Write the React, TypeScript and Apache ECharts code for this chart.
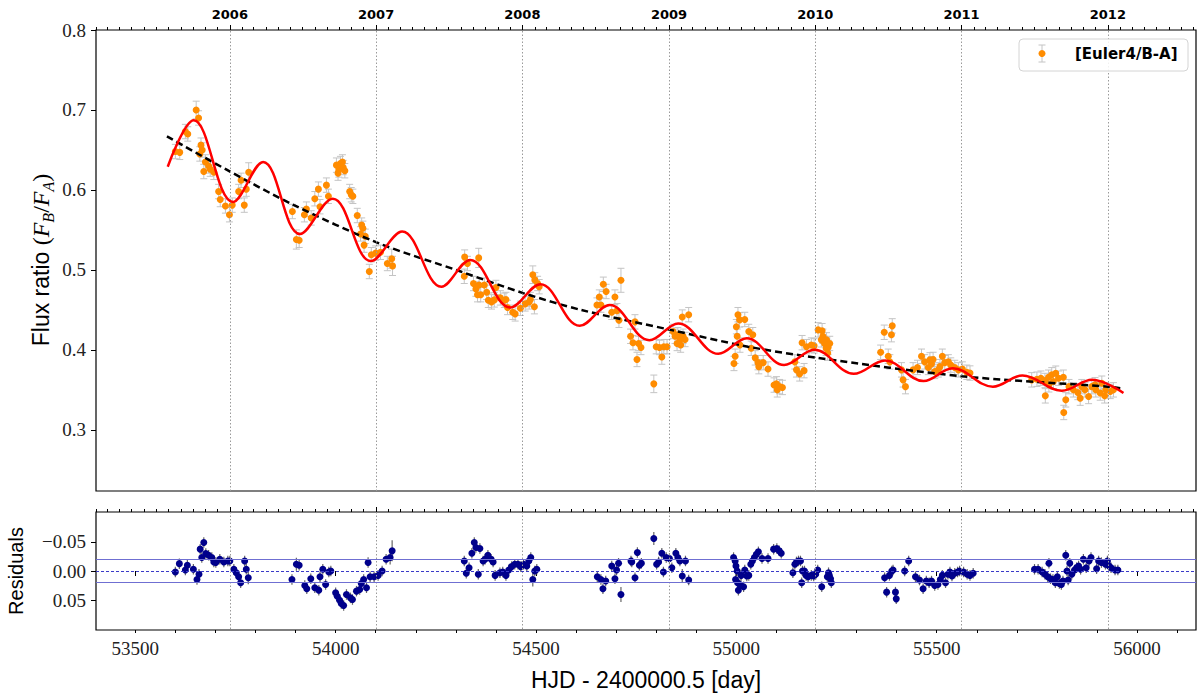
import { useEffect, useRef } from 'react';
import * as echarts from 'echarts';

// axis ranges (MJD on x)
const X_MIN = 53402;
const X_MAX = 56147;
const FLUX_MIN = 0.2235;
const FLUX_MAX = 0.8;
const RES_LIM = 0.101;

const YEAR_LABELS = ['2006', '2007', '2008', '2009', '2010', '2011', '2012'];
const YEAR_MJD = [53736, 54101, 54466, 54832, 55197, 55562, 55927];
const X_TICKS = [53500, 54000, 54500, 55000, 55500, 56000];
const FLUX_TICKS = [0.3, 0.4, 0.5, 0.6, 0.7, 0.8];
const RES_TICKS = [-0.05, 0, 0.05];
const RES_BAND = 0.02;

const FLUX_ERR = 0.009;
const RES_ERR = 0.009;

// [mjd, flux ratio, (error)]
const FLUX_OBS: number[][] = [
    [53600, 0.648], [53611, 0.647], [53625, 0.673], [53631, 0.670], [53652, 0.700, 0.011], [53658, 0.690],
    [53661, 0.645], [53664, 0.656], [53667, 0.650], [53671, 0.623], [53675, 0.635], [53683, 0.630],
    [53687, 0.626], [53696, 0.622], [53708, 0.598], [53712, 0.588], [53725, 0.580], [53735, 0.569],
    [53742, 0.581], [53758, 0.598], [53764, 0.612], [53772, 0.581], [53777, 0.601], [53783, 0.622, 0.012],
    [53892, 0.573], [53902, 0.538, 0.012], [53909, 0.537], [53922, 0.569], [53927, 0.576], [53939, 0.565],
    [53948, 0.589], [53957, 0.601], [53961, 0.579], [53977, 0.606], [53982, 0.592],
    [54002, 0.631], [54006, 0.621], [54008, 0.625], [54012, 0.633], [54017, 0.635], [54019, 0.628],
    [54023, 0.624], [54035, 0.598], [54039, 0.594], [54043, 0.592], [54054, 0.568], [54062, 0.545],
    [54065, 0.556], [54068, 0.552], [54071, 0.531], [54074, 0.542], [54084, 0.498], [54089, 0.519],
    [54100, 0.521], [54112, 0.522], [54129, 0.508], [54140, 0.514, 0.012], [54142, 0.505, 0.012],
    [54321, 0.492], [54322, 0.516], [54329, 0.508], [54344, 0.483], [54350, 0.476], [54354, 0.469],
    [54357, 0.515, 0.012], [54358, 0.481], [54362, 0.469], [54371, 0.481], [54377, 0.472], [54381, 0.462],
    [54389, 0.460], [54396, 0.4625], [54400, 0.478], [54411, 0.465], [54421, 0.462], [54425, 0.463],
    [54429, 0.453], [54442, 0.447], [54448, 0.445], [54461, 0.452], [54473, 0.4575], [54483, 0.460],
    [54486, 0.463], [54492, 0.494, 0.011], [54496, 0.454], [54497, 0.4875], [54504, 0.483], [54508, 0.479],
    [54652, 0.456], [54658, 0.466], [54662, 0.456], [54668, 0.482], [54675, 0.473], [54689, 0.447],
    [54697, 0.466], [54702, 0.449], [54707, 0.437], [54712, 0.487, 0.015], [54736, 0.417], [54742, 0.409],
    [54747, 0.435], [54752, 0.388], [54756, 0.408], [54762, 0.403], [54794, 0.3575, 0.011], [54800, 0.404],
    [54808, 0.403], [54814, 0.391], [54819, 0.404], [54827, 0.404], [54842, 0.423], [54847, 0.417],
    [54852, 0.408], [54854, 0.419], [54859, 0.4125], [54861, 0.406], [54865, 0.441], [54867, 0.417],
    [54872, 0.413], [54881, 0.444],
    [54994, 0.383], [54997, 0.392], [55000, 0.429], [55002, 0.417], [55004, 0.444], [55008, 0.4375],
    [55009, 0.406], [55021, 0.438], [55031, 0.423], [55037, 0.402], [55041, 0.419], [55047, 0.390],
    [55054, 0.384], [55056, 0.379], [55067, 0.384], [55079, 0.376], [55094, 0.356], [55100, 0.3575],
    [55102, 0.350], [55108, 0.354], [55115, 0.353],
    [55146, 0.385], [55150, 0.375], [55158, 0.370], [55164, 0.409], [55169, 0.374], [55175, 0.404],
    [55187, 0.406], [55194, 0.405], [55204, 0.425], [55212, 0.4125], [55214, 0.424], [55216, 0.417],
    [55220, 0.408], [55224, 0.402], [55225, 0.4125], [55228, 0.396], [55229, 0.403], [55233, 0.408],
    [55360, 0.397], [55369, 0.422], [55379, 0.392], [55383, 0.385], [55387, 0.419], [55389, 0.430],
    [55412, 0.375], [55416, 0.3625], [55422, 0.354],
    [55441, 0.375], [55452, 0.378], [55462, 0.392], [55470, 0.385], [55479, 0.378], [55483, 0.3875],
    [55487, 0.3825], [55491, 0.388], [55495, 0.373], [55504, 0.375], [55508, 0.379], [55514, 0.392],
    [55520, 0.384], [55529, 0.385], [55535, 0.381], [55545, 0.378], [55554, 0.375], [55564, 0.376],
    [55575, 0.372], [55583, 0.371],
    [55737, 0.3625], [55750, 0.3633], [55760, 0.3646], [55770, 0.3617], [55771, 0.3425], [55779, 0.3658],
    [55780, 0.3563], [55787, 0.3688], [55791, 0.3604], [55797, 0.3708], [55804, 0.3646], [55816, 0.3658],
    [55817, 0.3217], [55822, 0.3375], [55830, 0.354], [55841, 0.350], [55852, 0.3467], [55858, 0.3396],
    [55862, 0.354], [55870, 0.350], [55879, 0.3417], [55887, 0.354], [55895, 0.3563], [55897, 0.350],
    [55908, 0.346], [55912, 0.3583], [55919, 0.3425], [55922, 0.350], [55933, 0.348], [55941, 0.350],
];

// red model: extrema
const MODEL_CURVE: number[][] = [
    [53581, 0.629], [53646, 0.687], [53744, 0.585], [53819, 0.635], [53911, 0.545], [53993, 0.589],
    [54088, 0.511], [54166, 0.548], [54264, 0.479], [54336, 0.5125], [54436, 0.453], [54511, 0.482],
    [54609, 0.430], [54684, 0.456], [54783, 0.412], [54855, 0.433], [54955, 0.395], [55026, 0.4146],
    [55119, 0.381], [55195, 0.400], [55293, 0.370], [55371, 0.3867], [55467, 0.361], [55540, 0.377],
    [55640, 0.354], [55714, 0.368], [55812, 0.349], [55888, 0.3625], [55966, 0.346],
];

// black dashed trend
const TREND_CURVE: number[][] = [
    [53579, 0.667], [53729, 0.625], [53896, 0.581], [54104, 0.534], [54312, 0.498], [54468, 0.471],
    [54612, 0.450], [54836, 0.425], [55029, 0.404], [55203, 0.390], [55562, 0.367], [55927, 0.354],
    [55958, 0.352],
];

// [mjd, residual, (error)]
const RESIDUALS: number[][] = [
    [53600, 0.0017], [53610, -0.0126], [53625, -0.0017], [53630, -0.0098], [53645, -0.0029], [53654, 0.0144],
    [53659, 0.0057], [53662, -0.0374], [53666, -0.023], [53671, -0.0489], [53676, -0.030], [53683, -0.027],
    [53691, -0.023], [53696, -0.0155], [53701, -0.0144], [53711, -0.0201], [53721, -0.0155], [53731, -0.0172],
    [53736, -0.0172], [53746, -0.0029], [53752, 0.0029], [53758, 0.0098], [53763, 0.0201], [53773, -0.0172],
    [53777, -0.0029], [53782, 0.0115, 0.011],
    [53891, 0.0144], [53902, -0.0115, 0.011], [53909, -0.0098], [53923, 0.0247], [53928, 0.0305], [53938, 0.0132],
    [53948, 0.0287], [53958, 0.0328], [53961, 0.0098], [53968, -0.0029], [53975, 0.023], [53983, 0.0017],
    [53988, 0], [54000, 0.0374], [54004, 0.0431], [54010, 0.05], [54014, 0.0557], [54020, 0.0592],
    [54027, 0.0402], [54037, 0.046], [54042, 0.0489], [54052, 0.0345], [54060, 0.0316], [54064, 0.0213],
    [54070, 0.0144], [54077, 0.0287], [54081, -0.0144], [54086, 0.0098], [54096, 0.0098], [54106, 0.0075],
    [54116, 0], [54126, -0.0201], [54136, -0.023, 0.012], [54141, -0.0345, 0.018],
    [54321, -0.0172], [54326, 0.004], [54333, -0.0057], [54340, -0.0305], [54346, -0.0489], [54350, -0.0402],
    [54356, 0.0057], [54360, -0.0385], [54368, -0.0172], [54373, -0.0201], [54380, -0.027], [54388, -0.0201],
    [54393, -0.0155], [54398, 0.0075], [54410, 0.0029], [54417, 0.0017], [54425, 0.0075], [54432, -0.0017],
    [54439, -0.0075], [54447, -0.0115], [54455, -0.0115], [54462, -0.0075], [54469, -0.0115], [54477, -0.0086],
    [54482, -0.0172], [54487, -0.023], [54492, 0.0144, 0.012], [54497, 0], [54502, -0.0029],
    [54653, 0.0098], [54662, 0.0144], [54667, 0.0305], [54674, 0.0172], [54689, -0.0086], [54697, 0.0132],
    [54701, -0.0017], [54706, -0.0132], [54712, 0.0402, 0.013], [54737, -0.0172], [54739, -0.0155], [54747, 0.0115],
    [54753, -0.0316], [54758, -0.0098], [54763, -0.0132], [54794, -0.0557, 0.011], [54801, -0.0115], [54806, -0.0155],
    [54814, -0.0305], [54818, 0.0017], [54825, -0.023], [54833, -0.0213], [54839, -0.0057], [54849, -0.0305],
    [54854, -0.023], [54859, -0.0172], [54865, 0.0086, 0.012], [54873, -0.0172], [54881, 0.0155],
    [54993, -0.023], [54997, -0.0172], [54999, -0.0086], [55002, 0], [54998, 0.0144], [55003, 0.0201],
    [55005, 0.0328], [55009, 0.023], [55012, 0.0075], [55018, 0.027], [55021, -0.0017], [55026, 0.0086],
    [55031, 0.0075], [55036, -0.0115], [55040, -0.0172], [55045, -0.023], [55050, -0.0287], [55055, -0.0328],
    [55064, -0.0213], [55079, -0.0213], [55093, -0.0374], [55101, -0.0385], [55107, -0.0345], [55112, -0.0305],
    [55141, 0.0029], [55146, -0.0115], [55150, -0.0155], [55155, -0.0172], [55160, -0.0172], [55163, 0.0201],
    [55165, 0], [55170, 0], [55174, 0.0075], [55179, 0.0098], [55187, 0.0075], [55193, 0.0086],
    [55198, 0.0057], [55203, -0.0017], [55213, 0.027], [55227, 0.0098], [55230, 0.0029], [55232, 0.0075],
    [55235, 0.0132], [55237, 0.0201],
    [55370, 0.0115], [55375, 0.0362], [55382, 0.0075], [55388, 0], [55391, -0.0017], [55397, 0.0362],
    [55399, 0.0477], [55420, 0], [55430, -0.0172], [55447, 0.0098], [55457, 0.0155], [55466, 0.0305],
    [55474, 0.0172], [55481, 0.0201], [55487, 0.0172], [55495, 0.0247], [55503, 0.023], [55509, 0.0144],
    [55514, 0.0075], [55522, 0.0201], [55528, 0.0057], [55533, 0.0017], [55538, 0.0086], [55545, 0.004],
    [55552, 0.0017], [55557, 0], [55567, 0.0017], [55576, 0.0057], [55583, 0.0075], [55591, 0.004],
    [55744, -0.0029], [55753, -0.0029], [55763, 0.0017], [55770, 0.0057], [55777, 0.0098], [55780, -0.0132],
    [55784, 0.0132], [55790, 0.0144], [55796, 0.0201], [55801, 0.0098], [55806, 0.0213], [55811, 0.023],
    [55815, 0.0172], [55822, -0.027], [55825, 0], [55828, 0.0155], [55832, -0.0132], [55837, 0.0057],
    [55844, -0.0017], [55849, -0.0057], [55854, -0.0086], [55859, -0.0029], [55866, -0.0201], [55873, -0.0057],
    [55880, -0.0172], [55885, -0.023], [55899, -0.004], [55904, -0.0172], [55911, -0.0144], [55921, -0.0115],
    [55926, -0.0172], [55930, -0.0086], [55935, -0.0057], [55945, -0.0017], [55952, -0.0017],
];

// first-of-month tick positions for the calendar axes
const monthTicks: number[] = [];
for (let y = 2005; y <= 2012; y++) {
    for (let m = 0; m < 12; m++) {
        const mjd = Date.UTC(y, m, 1) / 86400000 + 40587;
        if (mjd >= X_MIN && mjd <= X_MAX) monthTicks.push(mjd);
    }
}
const minorTicks: number[] = [];
for (let v = 53500; v <= X_MAX; v += 100) minorTicks.push(v);

const SERIF = 'Liberation Serif';
const SANS = 'Liberation Sans';

const errorBars = (color: string, cap: number, width: number) => (_params: any, api: any) => {
    const x = api.value(0);
    const y = api.value(1);
    const e = api.value(2);
    const hi = api.coord([x, y + e]);
    const lo = api.coord([x, y - e]);
    const style = { stroke: color, lineWidth: width };
    const children: any[] = [
        { type: 'line', shape: { x1: hi[0], y1: hi[1], x2: lo[0], y2: lo[1] }, style },
    ];
    if (cap > 0) {
        children.push(
            { type: 'line', shape: { x1: hi[0] - cap, y1: hi[1], x2: hi[0] + cap, y2: hi[1] }, style },
            { type: 'line', shape: { x1: lo[0] - cap, y1: lo[1], x2: lo[0] + cap, y2: lo[1] }, style },
        );
    }
    return { type: 'group', children };
};

const calendarAxis = (gridIndex: number, ticks: number[], len: number, labels: boolean) => ({
    type: 'value',
    gridIndex,
    position: 'top',
    min: X_MIN,
    max: X_MAX,
    axisLine: { show: false },
    splitLine: { show: false },
    axisTick: { show: true, customValues: ticks, length: len, lineStyle: { color: '#000', width: 1 } },
    axisLabel: labels
        ? {
              show: true,
              customValues: YEAR_MJD,
              formatter: (v: number) => YEAR_LABELS[YEAR_MJD.indexOf(v)] ?? '',
              fontFamily: 'DejaVu Sans',
              fontWeight: 'bold',
              fontSize: 13,
              color: '#000',
              margin: 9,
          }
        : { show: false },
});

const yearLines = {
    symbol: ['none', 'none'],
    silent: true,
    label: { show: false },
    lineStyle: { type: [1.5, 2], color: '#9a9a9a', width: 1 },
    data: YEAR_MJD.map((v) => ({ xAxis: v })),
};

export default function App() {
    const chartRef = useRef<HTMLDivElement>(null);

    useEffect(() => {
        if (!chartRef.current) return;
        const chart = echarts.init(chartRef.current, undefined, { renderer: 'svg' });

        const option = {
            animation: false,
            backgroundColor: '#fff',
            textStyle: { fontFamily: SANS },
            grid: [
                { left: 96, top: 30, width: 1100, height: 461, show: true, borderColor: '#000', borderWidth: 1.2 },
                { left: 96, top: 512, width: 1100, height: 118, show: true, borderColor: '#000', borderWidth: 1.2 },
            ],
            xAxis: [
                {
                    type: 'value', gridIndex: 0, position: 'bottom', min: X_MIN, max: X_MAX,
                    axisLine: { show: false }, axisTick: { show: false }, axisLabel: { show: false },
                    splitLine: { show: false },
                },
                calendarAxis(0, monthTicks, 3, false),
                calendarAxis(0, YEAR_MJD, 5, true),
                {
                    type: 'value', gridIndex: 1, position: 'bottom', min: X_MIN, max: X_MAX,
                    axisLine: { show: false }, splitLine: { show: false },
                    axisTick: { show: true, customValues: X_TICKS, length: 5, lineStyle: { color: '#000' } },
                    axisLabel: {
                        show: true, customValues: X_TICKS, formatter: (v: number) => String(v),
                        fontFamily: SERIF, fontSize: 19, color: '#222', margin: 9,
                    },
                },
                {
                    type: 'value', gridIndex: 1, position: 'bottom', min: X_MIN, max: X_MAX,
                    axisLine: { show: false }, splitLine: { show: false }, axisLabel: { show: false },
                    axisTick: { show: true, customValues: minorTicks, length: 3, lineStyle: { color: '#000' } },
                },
                calendarAxis(1, monthTicks, 3, false),
                calendarAxis(1, YEAR_MJD, 5, false),
            ],
            yAxis: [
                {
                    type: 'value', gridIndex: 0, min: FLUX_MIN, max: FLUX_MAX,
                    axisLine: { show: false }, splitLine: { show: false },
                    axisTick: { show: true, customValues: FLUX_TICKS, length: 5, lineStyle: { color: '#000' } },
                    axisLabel: {
                        show: true, customValues: FLUX_TICKS, formatter: (v: number) => v.toFixed(1),
                        fontFamily: SERIF, fontSize: 19, color: '#222', margin: 10,
                    },
                },
                {
                    type: 'value', gridIndex: 1, inverse: true, min: -RES_LIM, max: RES_LIM,
                    axisLine: { show: false }, splitLine: { show: false },
                    axisTick: { show: true, customValues: RES_TICKS, length: 5, lineStyle: { color: '#000' } },
                    axisLabel: {
                        show: true, customValues: RES_TICKS,
                        formatter: (v: number) => (v < -1e-9 ? '\u2212' : '') + Math.abs(v).toFixed(2),
                        fontFamily: SERIF, fontSize: 19, color: '#222', margin: 10,
                    },
                },
            ],
            series: [
                // top panel
                { type: 'scatter', xAxisIndex: 0, yAxisIndex: 0, data: [], z: 1, markLine: yearLines },
                {
                    type: 'custom', xAxisIndex: 0, yAxisIndex: 0, z: 2, clip: true,
                    renderItem: errorBars('#c4c4c4', 3.5, 1),
                    encode: { x: 0, y: 1 },
                    data: FLUX_OBS.map(([t, f, e]) => [t, f, e ?? FLUX_ERR]),
                },
                {
                    name: '[Euler4/B-A]', type: 'scatter', xAxisIndex: 0, yAxisIndex: 0, z: 3,
                    symbolSize: 7, itemStyle: { color: '#ff8c00', opacity: 1 },
                    data: FLUX_OBS.map(([t, f]) => [t, f]),
                },
                {
                    type: 'line', xAxisIndex: 0, yAxisIndex: 0, z: 4, smooth: 0.3, showSymbol: false,
                    lineStyle: { color: '#000', width: 2.5, type: [7, 4] },
                    data: TREND_CURVE,
                },
                {
                    type: 'line', xAxisIndex: 0, yAxisIndex: 0, z: 5, smooth: 0.38, showSymbol: false,
                    lineStyle: { color: '#ff0000', width: 2.5 },
                    data: MODEL_CURVE,
                },
                // residual panel
                {
                    type: 'scatter', xAxisIndex: 3, yAxisIndex: 1, data: [], z: 1,
                    markLine: {
                        ...yearLines,
                        data: [
                            ...yearLines.data,
                            { yAxis: RES_BAND, lineStyle: { type: 'solid', color: '#6f6fd2', width: 1.2 } },
                            { yAxis: -RES_BAND, lineStyle: { type: 'solid', color: '#6f6fd2', width: 1.2 } },
                            { yAxis: 0, lineStyle: { type: [3, 2], color: '#3a3ac8', width: 1 } },
                        ],
                    },
                },
                {
                    type: 'custom', xAxisIndex: 3, yAxisIndex: 1, z: 2, clip: true,
                    renderItem: errorBars('#666666', 0, 1.2),
                    encode: { x: 0, y: 1 },
                    data: RESIDUALS.map(([t, r, e]) => [t, r, e ?? RES_ERR]),
                },
                {
                    type: 'scatter', xAxisIndex: 3, yAxisIndex: 1, z: 3,
                    symbolSize: 7, itemStyle: { color: '#00008b', opacity: 1 },
                    data: RESIDUALS.map(([t, r]) => [t, r]),
                },
            ],
            graphic: [
                {
                    type: 'text', x: 41, y: 260, rotation: Math.PI / 2,
                    style: {
                        text: '{t|Flux ratio }{m|(}{i|F}{s|B}{m|/}{i|F}{s|A}{m|)}',
                        align: 'center', verticalAlign: 'middle',
                        rich: {
                            t: { fontFamily: SANS, fontSize: 23, lineHeight: 30, fill: '#000' },
                            m: { fontFamily: SERIF, fontSize: 24, lineHeight: 30, fill: '#000' },
                            i: { fontFamily: SERIF, fontStyle: 'italic', fontSize: 24, lineHeight: 30, fill: '#000' },
                            s: { fontFamily: SERIF, fontStyle: 'italic', fontSize: 16, lineHeight: 17, verticalAlign: 'bottom', fill: '#000' },
                        },
                    },
                },
                {
                    type: 'text', x: 16, y: 571, rotation: Math.PI / 2,
                    style: { text: 'Residuals', fontFamily: SANS, fontSize: 20, fill: '#000', align: 'center', verticalAlign: 'middle' },
                },
                {
                    type: 'text', x: 646, y: 680,
                    style: { text: 'HJD - 2400000.5 [day]', fontFamily: SANS, fontSize: 23, fill: '#000', align: 'center', verticalAlign: 'middle' },
                },
                // legend
                {
                    type: 'rect', z: 10,
                    shape: { x: 1019, y: 39, width: 169, height: 32, r: 4 },
                    style: { fill: 'rgba(255,255,255,0.85)', stroke: '#d4d4d4', lineWidth: 1 },
                },
                { type: 'line', z: 11, shape: { x1: 1042, y1: 45, x2: 1042, y2: 62 }, style: { stroke: '#c4c4c4', lineWidth: 1 } },
                { type: 'line', z: 11, shape: { x1: 1038.5, y1: 45, x2: 1045.5, y2: 45 }, style: { stroke: '#c4c4c4', lineWidth: 1 } },
                { type: 'line', z: 11, shape: { x1: 1038.5, y1: 62, x2: 1045.5, y2: 62 }, style: { stroke: '#c4c4c4', lineWidth: 1 } },
                { type: 'circle', z: 12, shape: { cx: 1042, cy: 53.5, r: 3.5 }, style: { fill: '#ff8c00' } },
                {
                    type: 'text', z: 12, x: 1075, y: 54,
                    style: { text: '[Euler4/B-A]', fontFamily: 'DejaVu Sans', fontWeight: 'bold', fontSize: 15, fill: '#000', align: 'left', verticalAlign: 'middle' },
                },
            ],
        };

        chart.setOption(option as any);

        return () => {
            chart.dispose();
        };
    }, []);

    return (
        <div
            ref={chartRef}
            style={{ position: 'fixed', left: 0, top: 0, width: 1200, height: 693, background: '#fff' }}
        />
    );
}
